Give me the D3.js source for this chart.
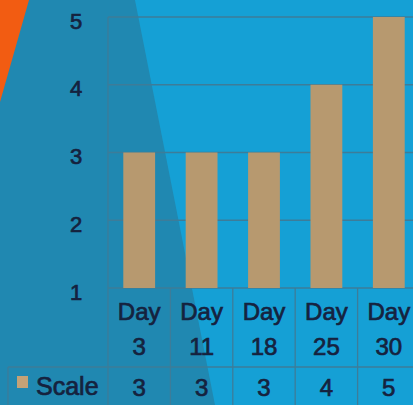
<!DOCTYPE html>
<html><head><meta charset="utf-8">
<script src="https://cdn.jsdelivr.net/npm/d3@7"></script>
<style>html,body{margin:0;padding:0;overflow:hidden;background:#169fd3}</style>
</head><body>
<script>
const categories = [["Day","3"],["Day","11"],["Day","18"],["Day","25"],["Day","30"]];
const seriesName = "Scale";
const values = [3, 3, 3, 4, 5];
const yTicks = [1, 2, 3, 4, 5];

const W = 413, H = 405;
const svg = d3.select("body").append("svg").attr("width", W).attr("height", H);

// background
svg.append("rect").attr("width", W).attr("height", H).attr("fill", "#15a0d5");
svg.append("path").attr("d", "M0,0 L135,0 L215,405 L0,405 Z").attr("fill", "#2088b1");
svg.append("path").attr("d", "M0,0 L29,0 L0,102 Z").attr("fill", "#f25c12");

const keys = categories.map(c => c.join(" "));
const x = d3.scaleBand().domain(keys).range([108, 420]).paddingInner(0.49).paddingOuter(0.245);
const y = d3.scaleLinear().domain([1, 5]).range([288, 17]);

const gridColor = "#3d7c99";
const textColor = "#15223e";
const font = "Liberation Sans, Arial, sans-serif";

function heavy(sel) {
  return sel.attr("stroke", textColor).attr("stroke-width", 0.7).attr("paint-order", "stroke");
}

// gridlines
svg.append("g").selectAll("line").data(yTicks).join("line")
  .attr("x1", 108).attr("x2", 420)
  .attr("y1", d => y(d)).attr("y2", d => y(d))
  .attr("stroke", gridColor).attr("stroke-width", 1.3);

// bars
svg.append("g").selectAll("rect").data(values).join("rect")
  .attr("x", (d, i) => x(keys[i]))
  .attr("width", x.bandwidth())
  .attr("y", d => y(d))
  .attr("height", d => y(1) - y(d))
  .attr("fill", "#b7996f");

// y axis labels
heavy(svg.append("g").selectAll("text").data(yTicks).join("text")
  .attr("x", 76).attr("y", d => y(d) + 11.5)
  .attr("text-anchor", "middle")
  .attr("font-family", font).attr("font-size", 22)
  .attr("fill", textColor).text(d => d));

// y axis line
svg.append("line").attr("x1", 108).attr("x2", 108).attr("y1", y(5)).attr("y2", H)
  .attr("stroke", gridColor).attr("stroke-width", 1.3);

// table lines
const step = x.step();
const bounds = d3.range(keys.length + 1).map(i => 108 + i * step);
svg.append("g").selectAll("line").data(bounds.slice(1)).join("line")
  .attr("x1", d => d).attr("x2", d => d).attr("y1", y(1)).attr("y2", H)
  .attr("stroke", gridColor).attr("stroke-width", 1.3);
svg.append("line").attr("x1", 8).attr("x2", 420).attr("y1", 367).attr("y2", 367)
  .attr("stroke", gridColor).attr("stroke-width", 1.3);
svg.append("line").attr("x1", 8).attr("x2", 8).attr("y1", 367).attr("y2", H)
  .attr("stroke", gridColor).attr("stroke-width", 1.3);

// category labels
const cat = heavy(svg.append("g").selectAll("text").data(categories).join("text")
  .attr("text-anchor", "middle")
  .attr("font-family", font).attr("font-size", 24)
  .attr("fill", textColor));
cat.append("tspan").attr("x", (d, i) => x(keys[i]) + x.bandwidth() / 2).attr("y", 320).text(d => d[0]);
cat.append("tspan").attr("x", (d, i) => x(keys[i]) + x.bandwidth() / 2).attr("y", 355).text(d => d[1]);

// value row
heavy(svg.append("g").selectAll("text").data(values).join("text")
  .attr("x", (d, i) => x(keys[i]) + x.bandwidth() / 2).attr("y", 396)
  .attr("text-anchor", "middle")
  .attr("font-family", font).attr("font-size", 24)
  .attr("fill", textColor).text(d => d));

// legend
svg.append("rect").attr("x", 17).attr("y", 376).attr("width", 11).attr("height", 12).attr("fill", "#c4a277");
heavy(svg.append("text").attr("x", 36).attr("y", 395)
  .attr("font-family", font).attr("font-size", 25)
  .attr("fill", textColor).text(seriesName));
</script>
</body></html>
